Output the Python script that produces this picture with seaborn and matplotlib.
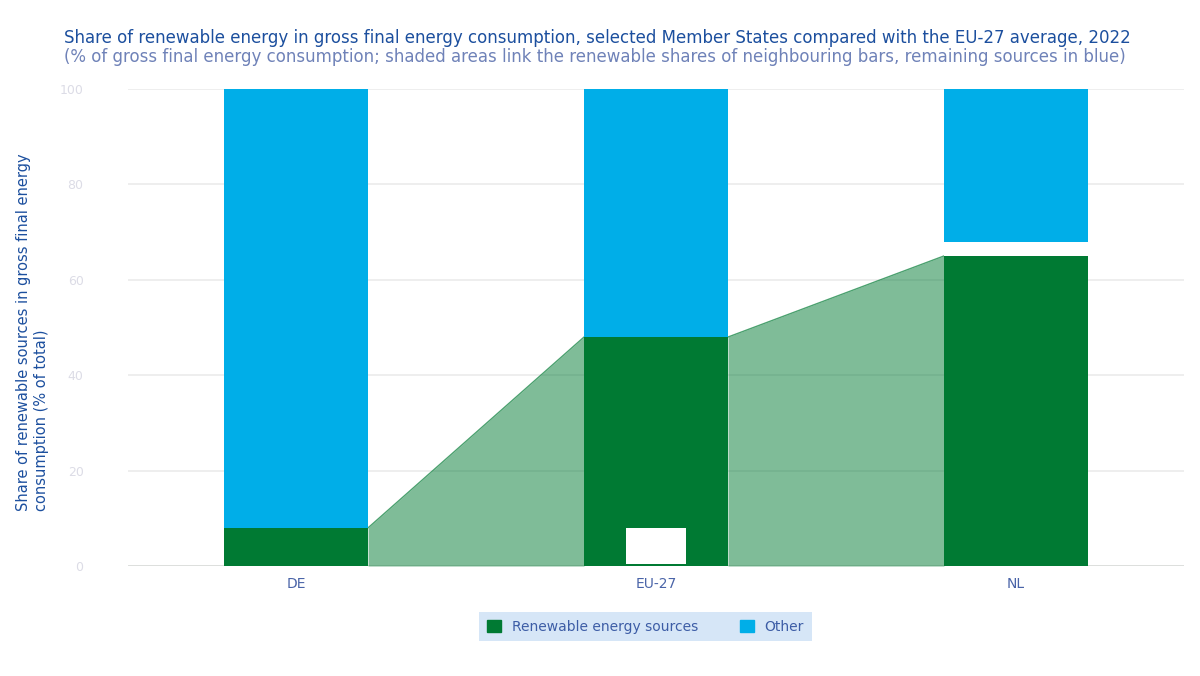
import matplotlib
matplotlib.use("Agg")
import matplotlib.pyplot as plt
import seaborn as sns
import pandas as pd

# chart data
countries = ["DE", "EU-27", "NL"]
renewable = [8, 48, 65]
not_stated = [0, 0, 3]
other = [92, 52, 32]
y_ticks = [0, 20, 40, 60, 80, 100]

GREEN = "#007a33"
BLUE = "#00aee8"
TITLE_BLUE = "#1c4f9e"

sns.set_theme(style="white")
plt.rcParams["font.family"] = ["DejaVu Sans"]

df = pd.DataFrame({"country": countries, "renewable": renewable,
                   "not_stated": not_stated, "other": other})
df["green_top"] = df["renewable"]
df["gap_top"] = df["renewable"] + df["not_stated"]
df["total"] = df["gap_top"] + df["other"]

fig = plt.figure(figsize=(12, 6.76), dpi=100)
ax = fig.add_axes([128 / 1200, 1 - 566 / 676, 1056 / 1200, 477 / 676])

# stacked bars, drawn from the top segment down
bar_kw = dict(width=0.4, saturation=1, ax=ax, zorder=3, linewidth=0)
sns.barplot(data=df, x="country", y="total", color=BLUE, **bar_kw)
sns.barplot(data=df, x="country", y="gap_top", color="white", **bar_kw)
sns.barplot(data=df, x="country", y="green_top", color=GREEN, **bar_kw)

# connectors between the green segments
for i in range(len(countries) - 1):
    xs = [i + 0.2, i + 0.8]
    ys = [renewable[i], renewable[i + 1]]
    ax.fill_between(xs, ys, 0, color=GREEN, alpha=0.5, lw=0, zorder=2)
    ax.plot(xs, ys, color=GREEN, lw=1, alpha=0.7, zorder=2)

# white badge at the bottom of the EU bar
ax.text(1, 4.2, "        ", ha="center", va="center", fontsize=12, zorder=5,
        bbox=dict(boxstyle="square,pad=0.55", fc="white", ec="none"))

ax.set_xlim(-0.467, 2.467)
ax.set_ylim(0, 100)
ax.set_yticks(y_ticks)
ax.set_yticklabels([str(v) for v in y_ticks], color="#dcdce6", fontsize=9)
ax.tick_params(axis="y", length=0, pad=32)
ax.tick_params(axis="x", length=0, pad=8, labelsize=10, labelcolor="#4a64a8")
ax.grid(axis="y", color="#ebebeb", lw=1.2, zorder=0)
ax.axhline(0, color="#dcdedc", lw=2, zorder=1)
ax.set_axisbelow(True)
for s in ax.spines.values():
    s.set_visible(False)
ax.set_xlabel("")
ax.set_ylabel("Share of renewable sources in gross final energy\nconsumption (% of total)",
              color=TITLE_BLUE, fontsize=10.5, multialignment="left")
ax.yaxis.set_label_coords(-0.075, 0.49)

fig.text(64 / 1200, 1 - 38 / 676,
         "Share of renewable energy in gross final energy consumption, selected Member States compared with the EU-27 average, 2022",
         color=TITLE_BLUE, fontsize=12, va="center")
fig.text(64 / 1200, 1 - 57 / 676,
         "(% of gross final energy consumption; shaded areas link the renewable shares of neighbouring bars, remaining sources in blue)",
         color="#6f82b8", fontsize=12, va="center")

legend_labels = ["Renewable energy sources", "Other"]
handles = [plt.Rectangle((0, 0), 1, 1, color=GREEN),
           plt.Rectangle((0, 0), 1, 1, color=BLUE)]
leg = ax.legend(handles, legend_labels, loc="upper center",
                bbox_to_anchor=(0.49, -0.082), ncol=2, frameon=True,
                fontsize=10, handlelength=1.0, handleheight=1.0,
                handletextpad=0.8, columnspacing=3.0, borderpad=0.55,
                fancybox=False)
leg.get_frame().set_facecolor("#cce0f5")
leg.get_frame().set_edgecolor("none")
for t in leg.get_texts():
    t.set_color("#3d5da6")

fig.savefig("out.png", dpi=100)
